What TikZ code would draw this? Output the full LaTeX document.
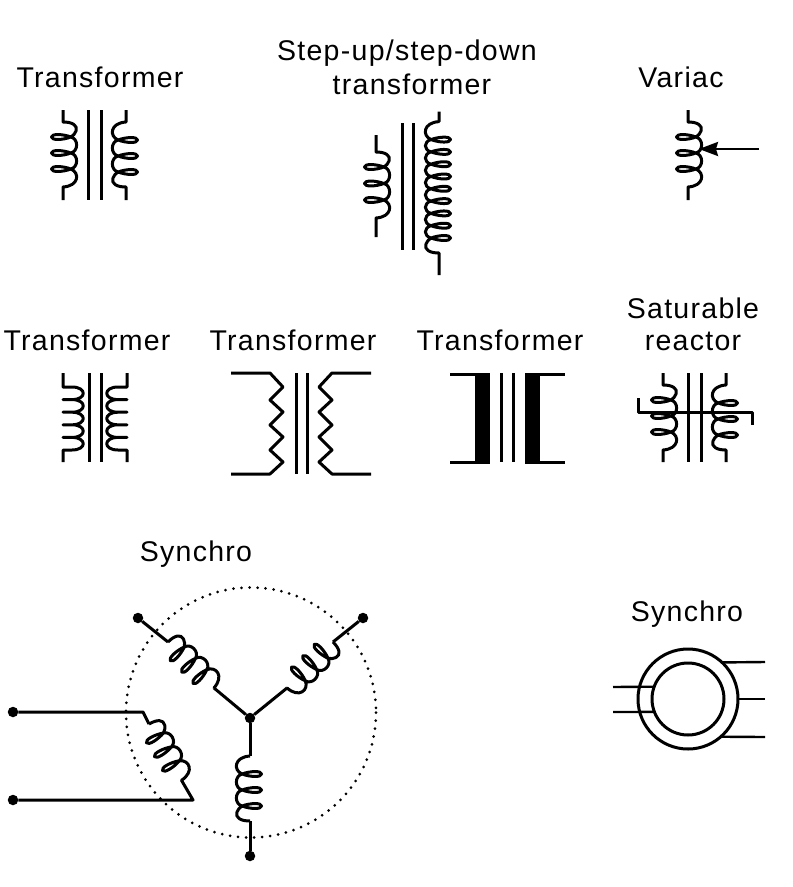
\documentclass[tikz,border=0pt]{standalone}
\usepackage{fontspec}
\setmainfont[LetterSpace=4.5]{Liberation Sans}
\usetikzlibrary{arrows.meta}

% #1 name, #2 position, #3 rotation, #4 turns, #5 pitch, #6 and #7 lead lengths
\newcommand{\coil}[7]{%
  \begin{scope}[shift={(#2)},rotate=#3]
    \pgfmathtruncatemacro{\coilrest}{#4-1}
    \pgfmathsetmacro{\coillast}{15+\coilrest*#5}
    \coordinate (#1a) at (0,-#6);
    \coordinate (#1b) at (0,\coillast+18+#7);
    \draw[wire] (#1a) -- (0,0) .. controls (9,0) and (15,3) .. (13,9)
        .. controls (12.5,11) and (10,14) .. (8,15)
      \foreach \k [evaluate=\k as \c using 15+(\k-1)*#5] in {1,...,\coilrest} {
        .. controls (0,\c-3) and (-11.5,\c-3.5) .. (-11.5,\c) .. controls (-11.5,\c+3.5) and (0,\c+3) .. (8,\c)
        .. controls (15.5,\c+2) and (15.5,\c+#5-2) .. (8,\c+#5)
      }
      .. controls (0,\coillast-3) and (-11.5,\coillast-3.5) .. (-11.5,\coillast)
      .. controls (-11.5,\coillast+3.5) and (0,\coillast+3) .. (8,\coillast)
      .. controls (17,\coillast+4) and (16,\coillast+17) .. (0,\coillast+18)
      -- (#1b);
  \end{scope}
}

% #1 name, #2 position, #3 mirror
\newcommand{\hookcoil}[3]{%
  \begin{scope}[shift={(#2)},xscale=#3]
    \coordinate (#1a) at (0,0);
    \coordinate (#1b) at (0,89);
    \draw[wire] (#1a) -- (0,14) -- (9,14)
      \foreach \k [evaluate=\k as \c using 14+(\k-1)*12.6] in {1,...,4} {
        .. controls (24,\c) and (24,\c+12.6) .. (9,\c+12.6) -- (0,\c+12.6) -- (9,\c+12.6)
      }
      .. controls (24,64.4) and (24,77) .. (9,77) -- (0,77) -- (#1b);
  \end{scope}
}

\begin{document}
\begin{tikzpicture}[
    x=1pt, y=-1pt,
    wire/.style={line width=3pt, line join=round},
    thinwire/.style={line width=2.4pt},
    title/.style={anchor=base, font=\fontsize{28.5}{34}\selectfont, inner sep=0pt},
    terminal/.style={circle, fill=black, inner sep=0pt, minimum size=10.5pt},
    ring/.style={circle, draw=black, line width=3pt, inner sep=0pt, outer sep=0pt}
]
    \useasboundingbox (0,0) rectangle (793,887);

    % Labels
    \node[title] (lab1) at (100,87) {Transformer};
    \node[title] (lab2) at (407,60) {Step-up/step-down};
    \node[title] (lab3) at (412,94) {transformer};
    \node[title] (lab4) at (681,87) {Variac};
    \node[title] (lab5) at (87,350) {Transformer};
    \node[title] (lab6) at (293,350) {Transformer};
    \node[title] (lab7) at (500,350) {Transformer};
    \node[title] (lab8) at (693,318) {Saturable};
    \node[title] (lab9) at (693,350) {reactor};
    \node[title] (lab10) at (196,561) {Synchro};
    \node[title] (lab11) at (687,621) {Synchro};

    % Transformer
    \coil{ta}{63,122}{0}{3}{16}{12}{13}
    \coil{tb}{126,187}{180}{3}{16}{13}{12}
    \foreach \x in {88,101} \draw[wire] (\x,110) -- (\x,200);

    % Step-up/step-down transformer
    \coil{sa}{376,152}{0}{3}{16.5}{17}{19}
    \coil{sb}{439,253}{180}{9}{12.3}{22}{10}
    \foreach \x in {402,413} \draw[wire] (\x,123) -- (\x,250);

    % Variac
    \coil{va}{688,122}{0}{3}{16}{12}{13}
    \coordinate (vstart) at (759,149);
    \coordinate (vtip) at (699,149);
    \draw[thinwire, -{Stealth[length=19pt, width=14pt, inset=2pt]}] (vstart) -- (vtip);

    % Transformer with hooks
    \hookcoil{ha}{63,373}{1}
    \hookcoil{hb}{127,373}{-1}
    \foreach \x in {89,101} \draw[wire] (\x,373) -- (\x,462);

    % Transformer with zigzags
    \foreach \s in {1,-1} {
      \begin{scope}[shift={(301,0)},xscale=\s]
        \draw[wire] (-70,373) -- (-31,373) -- (-18,387) -- (-31,400) -- (-18,412) -- (-31,425)
          -- (-18,437) -- (-31,450) -- (-18,462) -- (-31,474) -- (-70,474);
      \end{scope}
    }
    \foreach \x in {296,307} \draw[wire] (\x,373) -- (\x,474);

    % Transformer with solid bars
    \fill (475,373) rectangle (490,463);
    \fill (525,373) rectangle (540,463);
    \draw[wire] (450,374) -- (490,374);
    \draw[wire] (450,462) -- (490,462);
    \draw[wire] (525,374) -- (565,374);
    \draw[wire] (525,462) -- (565,462);
    \foreach \x in {501,513} \draw[wire] (\x,373) -- (\x,462);

    % Saturable reactor
    \coil{ra}{663,385}{0}{3}{16}{12}{12}
    \coil{rb}{726,450}{180}{3}{16}{12}{12}
    \foreach \x in {688,701} \draw[wire] (\x,373) -- (\x,462);
    \draw[wire] (638,398) -- (638,412) -- (752,412) -- (752,425);

    % Synchro, winding diagram
    \draw[line width=3pt, line cap=round, dash pattern=on 0pt off 8.05pt] (251,712.5) circle (125);
    \node[terminal] (hub) at (250,718) {};
    \node[terminal] (tul) at (138,618) {};
    \node[terminal] (tur) at (363,618) {};
    \node[terminal] (tbo) at (250,856) {};
    \node[terminal] (tl1) at (13,712) {};
    \node[terminal] (tl2) at (13,800) {};
    \coil{cul}{168,642}{45}{3}{16}{0}{0}
    \coil{cur}{333,642}{-45}{3}{16}{0}{0}
    \coil{cbo}{250,821}{180}{3}{16}{0}{0}
    \coil{cle}{149,724}{30}{3}{16}{0}{0}
    \coordinate (bendt) at (143,712);
    \coordinate (bendb) at (193,800);
    \draw[wire] (tul) -- (cula);
    \draw[wire] (culb) -- (hub);
    \draw[wire] (tur) -- (cura);
    \draw[wire] (curb) -- (hub);
    \draw[wire] (hub) -- (cbob);
    \draw[wire] (cboa) -- (tbo);
    \draw[wire] (tl1) -- (bendt) -- (clea);
    \draw[wire] (cleb) -- (bendb) -- (tl2);

    % Synchro, symbol
    \node[ring, minimum size=100pt] (outer) at (688,699) {};
    \node[ring, minimum size=72pt] (inner) at (688,699) {};
    \coordinate (in1) at (613,687);
    \coordinate (in2) at (613,712);
    \coordinate (out1) at (765,662);
    \coordinate (out2) at (765,699);
    \coordinate (out3) at (765,737);
    \draw[thinwire] (in1) -- (inner.160.5);
    \draw[thinwire] (in2) -- (inner.201);
    \draw[thinwire] (out1) -- (outer.47.7);
    \draw[thinwire] (out2) -- (outer.0);
    \draw[thinwire] (out3) -- (outer.-49);
\end{tikzpicture}
\end{document}
